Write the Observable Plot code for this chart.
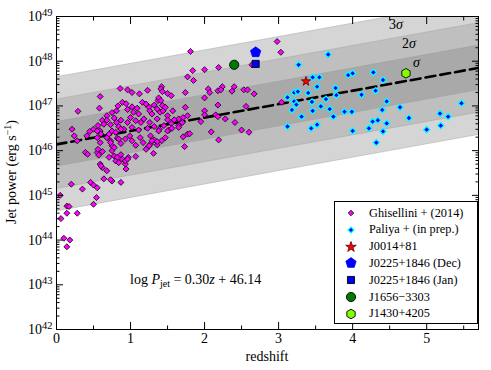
<!DOCTYPE html>
<html><head><meta charset="utf-8">
<script src="https://cdn.jsdelivr.net/npm/d3@7"></script>
<script src="https://cdn.jsdelivr.net/npm/@observablehq/plot@0.6"></script>
<style>
html,body{margin:0;padding:0;background:#fff;}
#wrap{position:relative;width:491px;height:370px;font-family:"Liberation Serif","DejaVu Serif",serif;color:#000;overflow:hidden;}
#wrap svg{position:absolute;left:0;top:0;}
.ann{position:absolute;white-space:nowrap;font-size:14px;line-height:1;}
#legend{position:absolute;left:334px;top:201px;width:144px;height:123px;border:1px solid #000;background:#fff;box-sizing:border-box;font-size:12.3px;}
.row{position:absolute;left:0;height:16px;display:flex;align-items:center;white-space:nowrap;}
.row svg{position:static !important;margin-left:8px;margin-right:10px;}
</style></head>
<body><div id="wrap"></div>
<script>
// ---- data ----
const ghisellini = [
[0.29,46.88],[0.58,46.95],[0.59,47.21],[0.68,46.78],[0.75,46.85],[0.81,46.89],[0.83,47.00],[0.89,47.08],[0.94,47.05],[0.96,46.92],
[1.02,46.98],[1.04,46.86],[1.09,46.95],[1.11,46.82],[1.16,47.08],[1.21,47.04],[1.25,46.97],[1.26,46.89],[1.29,46.82],[1.32,47.02],
[1.36,46.93],[1.37,47.12],[1.40,46.86],[1.43,47.01],[1.44,46.89],[1.47,46.97],[1.50,46.78],[1.57,46.89],[1.65,46.71],[1.71,46.74],[1.77,46.78],
[0.21,46.48],[0.24,46.33],[0.28,46.22],[0.41,46.33],[0.45,46.43],[0.50,46.48],[0.56,46.56],[0.59,46.44],[0.62,46.68],[0.64,46.59],
[0.68,46.68],[0.73,46.58],[0.78,46.73],[0.81,46.63],[0.84,46.54],[0.87,46.68],[0.91,46.48],[0.96,46.63],[1.00,46.74],[1.02,46.52],
[1.07,46.67],[1.11,46.46],[1.14,46.63],[1.18,46.71],[1.23,46.50],[1.26,46.63],[1.32,46.54],[1.36,46.71],[1.39,46.48],[1.45,46.56],
[1.50,46.69],[1.55,46.61],[1.59,46.69],[1.65,46.56],[1.70,46.63],[1.71,46.31],[1.77,46.37],[1.80,46.38],
[0.55,46.29],[0.59,46.18],[0.68,46.29],[0.73,46.22],[0.75,46.11],[0.82,46.28],[0.87,46.16],[0.93,46.26],[0.99,46.33],[1.02,46.22],
[1.07,46.12],[1.13,46.29],[1.17,46.18],[1.23,46.07],[1.27,46.15],[1.32,46.24],[1.36,46.13],[1.42,46.22],[1.47,46.29],[1.52,46.46],
[0.39,45.96],[0.42,45.92],[0.55,45.96],[0.57,45.90],[0.62,45.98],[0.71,45.85],[0.78,45.88],[0.80,45.77],[0.87,45.91],[0.89,45.81],
[0.93,45.70],[0.97,45.85],[1.07,45.87],[1.21,46.03],[1.31,45.94],[2.09,46.42],[2.19,46.24],
[0.59,45.70],[0.62,45.62],[0.68,45.55],[0.75,45.32],[0.87,45.29],[0.94,45.59],[0.20,45.25],[0.35,45.14],[0.46,45.29],
[0.05,45.00],[0.14,44.76],[0.17,44.75],[0.54,44.95],[0.50,44.80],[0.14,44.60],[0.28,44.60],[0.06,44.48],[0.10,44.04],[0.18,44.00],[0.14,43.85],
[0.50,45.23],[0.55,45.17],[0.64,45.37],[0.73,45.35],[0.60,45.66],[0.82,45.85],[0.93,45.77],[0.84,45.73],[0.75,46.00],[0.56,46.03],
[0.78,46.07],[0.73,46.18],[0.84,46.26],[0.55,46.44],[0.60,46.37],[0.71,46.37],[0.75,46.44],[0.80,46.41],[0.87,46.48],
[0.86,47.39],[0.96,47.36],[1.02,47.30],[1.12,47.27],[1.23,47.35],[1.42,47.43],[1.41,47.38],[1.43,47.32],[1.55,47.23],[1.38,47.18],[1.41,47.12],
[1.81,48.22],[1.84,47.79],[1.77,47.65],[1.85,47.57],[2.00,47.81],[2.19,47.86],[1.74,47.30],[1.50,47.28],
[1.27,46.33],[1.29,46.22],[1.36,46.20],[1.25,46.11],[1.73,46.09],[0.96,45.81],[1.38,46.44],[1.50,46.44],[1.56,46.50],[1.65,46.52],
[2.05,47.38],[2.07,47.30],[2.18,47.34],[2.24,47.43],[2.22,47.36],[2.37,47.33],[2.40,47.43],[2.53,47.36],[2.58,47.36],[2.67,47.27],
[2.00,47.18],[2.18,47.02],[2.56,46.99],[2.00,46.89],[2.00,46.80],[1.95,46.65],[2.15,46.80],[2.18,46.76],[2.28,46.71],[2.41,46.63],
[2.50,46.46],[2.60,46.41],[2.64,47.92],[2.98,48.44],[3.03,48.20],[3.04,47.08],[1.74,46.97]
];
const paliya = [
[3.27,47.92],[3.67,48.15],[3.46,47.64],[3.55,47.64],[3.94,47.69],[4.00,47.73],[4.28,47.75],[4.41,47.58],
[3.52,47.43],[3.77,47.40],[3.21,47.30],[3.26,47.32],[3.40,47.29],[3.78,47.24],[4.12,47.25],[4.31,47.34],
[3.12,47.19],[3.21,47.10],[3.24,47.03],[3.45,47.09],[3.64,47.15],[4.46,47.10],[3.18,46.91],[3.46,46.89],
[3.57,46.99],[3.69,46.93],[3.31,46.76],[3.74,46.76],[3.89,46.87],[3.99,46.87],[4.40,46.91],[4.64,46.97],
[5.47,47.06],[3.12,46.54],[3.44,46.50],[3.52,46.58],[4.00,46.44],[4.27,46.65],[4.22,46.50],[4.34,46.68],
[4.46,46.61],[4.41,46.43],[4.32,46.18],[4.76,46.73],[5.18,46.83],[5.29,46.76],[5.00,46.47],[5.19,46.56]
];
const srcNames = ["J0014+81","J0225+1846 (Dec)","J0225+1846 (Jan)","J1656\u22123303","J1430+4205"];
const srcZ = [3.37, 2.69, 2.69, 2.40, 4.72];
const srcLogP = [47.55, 48.20, 47.94, 47.92, 47.73];

const fitSlope = 0.30, fitIntercept = 46.14, fitSigma = 0.5;
const zRange = [0, 5.7];
const xMajor = [0, 1, 2, 3, 4, 5];
const xMinor = [0.5, 1.5, 2.5, 3.5, 4.5, 5.5];
const yDecades = [42, 43, 44, 45, 46, 47, 48, 49];
const yMultiples = [2, 3, 4, 5, 6, 7, 8, 9];

// ---- helpers ----
const P = v => Math.pow(10, v);
const fit = z => fitIntercept + fitSlope * z;
const yMajor = yDecades.map(P);
const yMinor = yDecades.slice(0, -1).flatMap(e => yMultiples.map(m => m * P(e)));
function polygonSymbol(n) {
  return {draw(ctx, size) {
    const R = Math.sqrt(size / Math.PI);
    for (let i = 0; i < n; i++) {
      const a = 2 * Math.PI * i / n, x = R * Math.sin(a), y = -R * Math.cos(a);
      if (i) ctx.lineTo(x, y); else ctx.moveTo(x, y);
    }
    ctx.closePath();
  }};
}
const pentagon = polygonSymbol(5), hexagon = polygonSymbol(6);

const srcStyle = [
  {symbol: "star", r: 2.9, fill: "#ff0000", stroke: "#5a0000", sw: 0.8},
  {symbol: pentagon, r: 5.4, fill: "#0000ff", stroke: "#0000ff", sw: 0.8},
  {symbol: "square", r: 4.0, fill: "#0000ff", stroke: "#000", sw: 0.9},
  {symbol: "circle", r: 4.6, fill: "#007a00", stroke: "#000", sw: 0.9},
  {symbol: hexagon, r: 4.8, fill: "#80ff00", stroke: "#000", sw: 0.9}
];
const sources = srcNames.map((n, i) => ({name: n, z: srcZ[i], logP: srcLogP[i], i}));
const bandFills = ["#d5d5d5", "#bfbfbf", "#a9a9a9"];

const tickAxes = [];
for (const anchor of ["left", "right"]) {
  tickAxes.push(Plot.axisY({anchor, ticks: yMajor, tickSize: -7, tickFormat: () => "", label: null}));
  tickAxes.push(Plot.axisY({anchor, ticks: yMinor, tickSize: -3.5, tickFormat: () => "", label: null}));
}
for (const anchor of ["bottom", "top"]) {
  tickAxes.push(Plot.axisX({anchor, ticks: xMajor, tickSize: -7, tickFormat: () => "", label: null}));
  tickAxes.push(Plot.axisX({anchor, ticks: xMinor, tickSize: -3.5, tickFormat: () => "", label: null}));
}

const svg = Plot.plot({
  width: 491, height: 370,
  marginLeft: 56, marginRight: 13, marginTop: 16, marginBottom: 41,
  style: {fontFamily: '"Liberation Serif","DejaVu Serif",serif', background: "transparent", color: "#000"},
  x: {domain: zRange},
  y: {type: "log", domain: [P(42), P(49)]},
  marks: [
    ...[3, 2, 1].map((k, i) => Plot.areaY(zRange, {
      x: d => d, y1: d => P(fit(d) - k * fitSigma), y2: d => P(fit(d) + k * fitSigma),
      fill: bandFills[i], stroke: "#9a9a9a", strokeWidth: 0.4, clip: true})),
    Plot.line(zRange, {x: d => d, y: d => P(fit(d)), stroke: "#000", strokeWidth: 2.6, strokeDasharray: "10,5", clip: true}),
    Plot.dot(ghisellini, {x: d => d[0], y: d => P(d[1]), symbol: "diamond2", r: 2.7, fill: "#ff00ff", stroke: "#000", strokeWidth: 0.8}),
    Plot.dot(paliya, {x: d => d[0], y: d => P(d[1]), symbol: "diamond2", r: 2.8, fill: "#0000ff", stroke: "#00ffff", strokeWidth: 1.3}),
    ...sources.map(s => Plot.dot([s], {x: "z", y: d => P(d.logP), symbol: srcStyle[s.i].symbol, r: srcStyle[s.i].r,
      fill: srcStyle[s.i].fill, stroke: srcStyle[s.i].stroke, strokeWidth: srcStyle[s.i].sw})),
    Plot.axisY({anchor: "left", ticks: yMajor, tickSize: 0, tickPadding: 4, fontSize: 14, label: null,
      tickFormat: d => "10^" + Math.round(Math.log10(d))}),
    Plot.axisX({anchor: "bottom", ticks: xMajor, tickSize: 0, tickPadding: 4, fontSize: 14, label: null,
      tickFormat: d => String(d)}),
    ...tickAxes,
    Plot.frame({stroke: "#000", strokeWidth: 1})
  ]
});

// superscript exponents on y tick labels
svg.querySelectorAll("text").forEach(t => {
  const s = t.textContent;
  if (s.indexOf("^") < 0) return;
  const [b, e] = s.split("^");
  t.textContent = b;
  const ts = document.createElementNS("http://www.w3.org/2000/svg", "tspan");
  ts.setAttribute("dy", "-0.5em");
  ts.setAttribute("font-size", "10.5px");
  ts.textContent = e;
  t.appendChild(ts);
});

const wrap = document.getElementById("wrap");
wrap.appendChild(svg);

function addDiv(html, style, cls = "ann") {
  const d = document.createElement("div");
  d.className = cls;
  d.innerHTML = html;
  Object.assign(d.style, style);
  wrap.appendChild(d);
  return d;
}
// annotations
addDiv('log <i>P</i><span style="font-size:10px;position:relative;top:3px">jet</span> = 0.30<i>z</i> + 46.14', {left: "130px", top: "273px"});
addDiv('3<i>σ</i>', {left: "389px", top: "18px"});
addDiv('2<i>σ</i>', {left: "402px", top: "37px"});
addDiv('<i>σ</i>', {left: "413px", top: "56px"});
addDiv('redshift', {left: "267px", top: "350px", transform: "translateX(-50%)"});
addDiv('Jet power (erg s<span style="font-size:10px;position:relative;top:-5px">\u22121</span>)',
  {left: "12px", top: "172px", transform: "translate(-50%,-50%) rotate(-90deg)"});

// legend
const legend = addDiv("", {}, "");
legend.id = "legend";
const legendStyle = [
  {symbol: d3.symbolDiamond2, r: 2.5, fill: "#ff00ff", stroke: "#000", sw: 0.8},
  {symbol: d3.symbolDiamond2, r: 2.6, fill: "#0000ff", stroke: "#00ffff", sw: 1.3},
  {symbol: d3.symbolStar, r: 3.3, fill: "#ff0000", stroke: "#5a0000", sw: 0.8},
  {symbol: pentagon, r: 5.4, fill: "#0000ff", stroke: "#0000ff", sw: 0.8},
  {symbol: d3.symbolSquare, r: 4.0, fill: "#0000ff", stroke: "#000", sw: 0.9},
  {symbol: d3.symbolCircle, r: 4.6, fill: "#007a00", stroke: "#000", sw: 0.9},
  {symbol: hexagon, r: 4.8, fill: "#80ff00", stroke: "#000", sw: 0.9}
];
const legendLabels = ["Ghisellini + (2014)", "Paliya + (in prep.)", ...srcNames];
legendLabels.forEach((lab, i) => {
  const st = legendStyle[i];
  const row = document.createElement("div");
  row.className = "row";
  row.style.top = (3 + i * 16.8) + "px";
  const path = d3.symbol(st.symbol, st.r * st.r * Math.PI)();
  row.innerHTML = `<svg width="16" height="16" viewBox="-8 -8 16 16"><path d="${path}" fill="${st.fill}" stroke="${st.stroke}" stroke-width="${st.sw}"/></svg><span>${lab}</span>`;
  legend.appendChild(row);
});
</script>
</body></html>
